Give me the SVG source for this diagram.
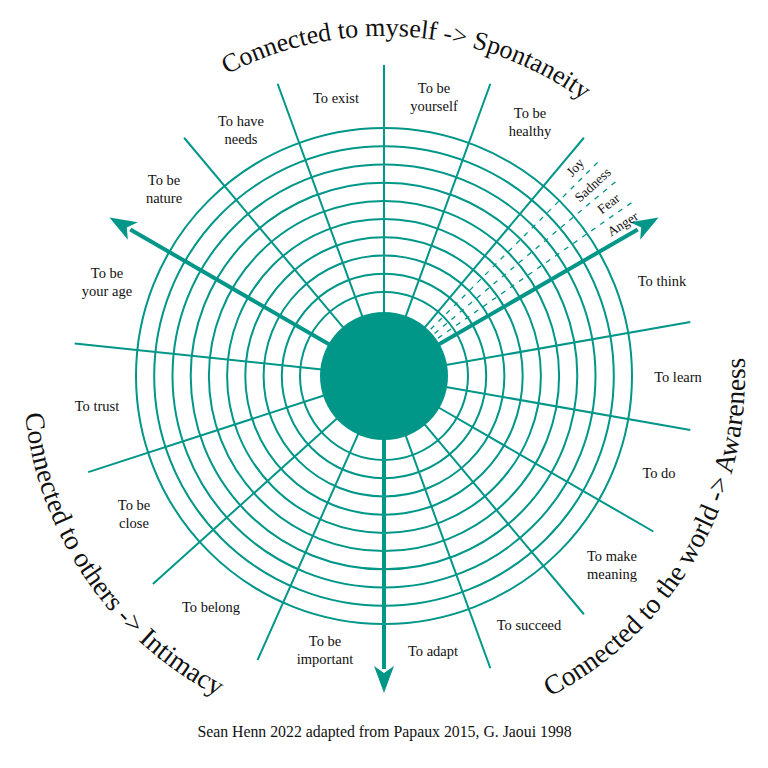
<svg xmlns="http://www.w3.org/2000/svg" width="768" height="768" viewBox="0 0 768 768">
<style>
.ring{fill:none;stroke:#009688;stroke-width:2}
.spoke{stroke:#009688;stroke-width:2}
.dash{stroke:#009688;stroke-width:1.3;stroke-dasharray:5 6}
.shaft{stroke:#009688;stroke-width:4}
.head{fill:#009688}
.lbl{font-family:"Liberation Serif","Times New Roman",serif;font-size:14.5px;fill:#111;text-anchor:middle}
.emo{font-family:"Liberation Serif","Times New Roman",serif;font-size:13.5px;fill:#111;text-anchor:middle}
.title{font-family:"Liberation Serif","Times New Roman",serif;fill:#111}
</style>
<defs>
<path id="topArc" d="M 227 74.4 A 340 340 0 0 1 678.4 206" fill="none"/>
<path id="leftArc" d="M 25 413.7 A 361 361 0 0 0 321.3 731.5" fill="none"/>
<path id="rightArc" d="M 550.1 696.5 A 361 361 0 0 0 723.2 252.5" fill="none"/>
<g id="arrow"><line class="shaft" x1="0" y1="0" x2="0" y2="-293"/><path class="head" d="M0,-317 L10,-290 L0,-297 L-10,-290 Z"/></g>
</defs>
<rect width="768" height="768" fill="#fff"/>

<g id="rings">
<circle class="ring" cx="384" cy="376" r="84"/>
<circle class="ring" cx="384" cy="376" r="102.2"/>
<circle class="ring" cx="384" cy="376" r="120.4"/>
<circle class="ring" cx="384" cy="376" r="138.7"/>
<circle class="ring" cx="384" cy="376" r="156.9"/>
<circle class="ring" cx="384" cy="376" r="175.1"/>
<circle class="ring" cx="384" cy="376" r="193.3"/>
<circle class="ring" cx="384" cy="376" r="211.5"/>
<circle class="ring" cx="384" cy="376" r="229.8"/>
<circle class="ring" cx="384" cy="376" r="248"/>
</g>

<g id="connectors" transform="translate(384,376)">
<line class="spoke" x1="0" y1="-60" x2="0" y2="-311"/>
<line class="spoke" x1="0" y1="-60" x2="0" y2="-311" transform="rotate(20)"/>
<line class="spoke" x1="0" y1="-60" x2="0" y2="-311" transform="rotate(40)"/>
<line class="spoke" x1="0" y1="-60" x2="0" y2="-311" transform="rotate(80)"/>
<line class="spoke" x1="0" y1="-60" x2="0" y2="-311" transform="rotate(100)"/>
<line class="spoke" x1="0" y1="-60" x2="0" y2="-311" transform="rotate(120)"/>
<line class="spoke" x1="0" y1="-60" x2="0" y2="-311" transform="rotate(140)"/>
<line class="spoke" x1="0" y1="-60" x2="0" y2="-311" transform="rotate(160)"/>
<line class="spoke" x1="0" y1="-60" x2="0" y2="-311" transform="rotate(204)"/>
<line class="spoke" x1="0" y1="-60" x2="0" y2="-311" transform="rotate(228)"/>
<line class="spoke" x1="0" y1="-60" x2="0" y2="-311" transform="rotate(252)"/>
<line class="spoke" x1="0" y1="-60" x2="0" y2="-311" transform="rotate(276)"/>
<line class="spoke" x1="0" y1="-60" x2="0" y2="-311" transform="rotate(320)"/>
<line class="spoke" x1="0" y1="-60" x2="0" y2="-311" transform="rotate(340)"/>
<line class="dash" x1="0" y1="-66" x2="0" y2="-308" transform="rotate(45)"/>
<line class="dash" x1="0" y1="-66" x2="0" y2="-308" transform="rotate(50)"/>
<line class="dash" x1="0" y1="-66" x2="0" y2="-308" transform="rotate(55)"/>
<use href="#arrow" transform="rotate(60)"/>
<use href="#arrow" transform="rotate(180)"/>
<use href="#arrow" transform="rotate(300)"/>
</g>

<g id="core"><circle cx="384" cy="376" r="64" fill="#009688"/></g>

<g id="emotions">
<text class="emo" transform="translate(575.2,167.3) rotate(-47.5)" dy="4.5">Joy</text>
<text class="emo" transform="translate(592.7,184.8) rotate(-42.5)" dy="4.5">Sadness</text>
<text class="emo" transform="translate(608.5,203.7) rotate(-37.5)" dy="4.5">Fear</text>
<text class="emo" transform="translate(622.7,223.9) rotate(-32.5)" dy="4.5">Anger</text>
</g>

<g id="labels">
<g id="n-exist"><text class="lbl" x="336" y="103">To exist</text></g>
<g id="n-yourself"><text class="lbl" x="434" y="93">To be<tspan x="434" dy="18">yourself</tspan></text></g>
<g id="n-healthy"><text class="lbl" x="530" y="118">To be<tspan x="530" dy="18">healthy</tspan></text></g>
<g id="n-think"><text class="lbl" x="662" y="286">To think</text></g>
<g id="n-learn"><text class="lbl" x="678" y="382">To learn</text></g>
<g id="n-do"><text class="lbl" x="659" y="478">To do</text></g>
<g id="n-meaning"><text class="lbl" x="612" y="561">To make<tspan x="612" dy="18">meaning</tspan></text></g>
<g id="n-succeed"><text class="lbl" x="529" y="630">To succeed</text></g>
<g id="n-adapt"><text class="lbl" x="433" y="656">To adapt</text></g>
<g id="n-important"><text class="lbl" x="325" y="646">To be<tspan x="325" dy="18">important</tspan></text></g>
<g id="n-belong"><text class="lbl" x="211" y="612">To belong</text></g>
<g id="n-close"><text class="lbl" x="134" y="510">To be<tspan x="134" dy="18">close</tspan></text></g>
<g id="n-trust"><text class="lbl" x="97" y="411">To trust</text></g>
<g id="n-age"><text class="lbl" x="107" y="278">To be<tspan x="107" dy="18">your age</tspan></text></g>
<g id="n-nature"><text class="lbl" x="164" y="185">To be<tspan x="164" dy="18">nature</tspan></text></g>
<g id="n-needs"><text class="lbl" x="241" y="126">To have<tspan x="241" dy="18">needs</tspan></text></g>
</g>

<g id="titles">
<text class="title" font-size="26"><textPath href="#topArc">Connected to myself -&gt; Spontaneity</textPath></text>
<text class="title" font-size="27.5"><textPath href="#leftArc">Connected to others -&gt; Intimacy</textPath></text>
<text class="title" font-size="27.5"><textPath href="#rightArc">Connected to the world -&gt; Awareness</textPath></text>
</g>

<g id="footer"><text class="lbl" x="384.5" y="737" style="font-size:15.8px">Sean Henn 2022 adapted from Papaux 2015, G. Jaoui 1998</text></g>
</svg>
